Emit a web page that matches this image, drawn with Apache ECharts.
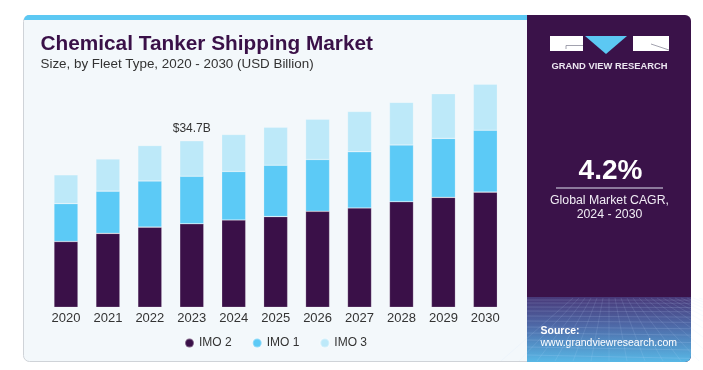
<!DOCTYPE html>
<html>
<head>
<meta charset="utf-8">
<script src="https://cdn.jsdelivr.net/npm/echarts@6/dist/echarts.min.js"></script>
<style>
html,body{margin:0;padding:0;background:#ffffff;}
#main{width:703px;height:370px;}
</style>
</head>
<body>
<div id="main"></div>
<script>
// ---- data ----
var years = ['2020','2021','2022','2023','2024','2025','2026','2027','2028','2029','2030'];
var imo2 = [13.7, 15.4, 16.7, 17.4, 18.2, 18.9, 20.0, 20.7, 22.0, 22.9, 24.0];
var imo1 = [7.9, 8.8, 9.6, 9.9, 10.1, 10.7, 10.8, 11.7, 11.8, 12.3, 12.9];
var imo3 = [6.0, 6.7, 7.4, 7.4, 7.7, 7.9, 8.4, 8.4, 8.9, 9.3, 9.6];
var seriesNames = ['IMO 2', 'IMO 1', 'IMO 3'];
var totalLabel = '$34.7B';
var totalLabelIndex = 3;
var cagrText = '4.2%';

var chart = echarts.init(document.getElementById('main'), null, {renderer:'canvas'});

var C_DARK = '#3a1048';
var C_MID = '#5ccaf6';
var C_LIGHT = '#bde9f9';
var PANEL = '#3a1249';
var FONT = '"Liberation Sans", Arial, sans-serif';

var imo3Data = imo3.map(function(v, i){
  if (i === totalLabelIndex) {
    return {value: v, label: {show: true, position: 'top', distance: 6, formatter: totalLabel,
      color: '#333333', fontSize: 12, fontFamily: FONT}};
  }
  return v;
});

// mesh lines for decorative bottom of right panel
var meshEls = [];
(function(){
  var x0 = 527, x1 = 691, y0 = 298, y1 = 361;
  var hy = [300, 303, 307, 311, 316, 321, 327, 333, 340, 347, 355];
  hy.forEach(function(y){
    meshEls.push({type:'line', z: 3, silent:true,
      shape:{x1:x0, y1:y, x2:x1, y2:y + (y-298)*0.06},
      style:{stroke:'rgba(200,220,255,0.22)', lineWidth:0.7}});
  });
  for (var k = -6; k <= 16; k++) {
    var xt = 609 + k * 6;
    var xb = 609 + k * 18;
    meshEls.push({type:'line', z: 3, silent:true,
      shape:{x1:xt, y1:y0, x2:xb, y2:y1},
      style:{stroke:'rgba(200,220,255,0.18)', lineWidth:0.7}});
  }
})();

var graphics = [
  {type:'rect', z:-10, silent:true, shape:{x:23.5, y:15.5, width:667, height:346, r:6},
   style:{fill:'#f3f8fb', stroke:'#cfd3d8', lineWidth:1}},
  {type:'rect', z:-9, silent:true, shape:{x:24, y:15, width:504, height:5, r:[5,0,0,0]},
   style:{fill:'#5cc8f3'}},
  {type:'rect', z:-8, silent:true, shape:{x:527, y:15, width:164, height:347, r:[0,6,6,0]},
   style:{fill:PANEL}},
  {type:'rect', z:-7, silent:true, shape:{x:527, y:297, width:164, height:65, r:[0,0,6,0]},
   style:{fill:new echarts.graphic.LinearGradient(0,0,0,1,[
     {offset:0, color:'#483878'},
     {offset:0.45, color:'#4e6aa8'},
     {offset:1, color:'#58b8e6'}])}},
  {type:'rect', z:10, silent:true, shape:{x:550, y:36, width:33, height:15}, style:{fill:'#ffffff'}},
  {type:'polyline', z:11, silent:true, shape:{points:[[566,49],[566,45.5],[583,45.5]]},
   style:{stroke:'#8a8a9a', lineWidth:0.8, fill:null}},
  {type:'polygon', z:10, silent:true, shape:{points:[[585,36],[627,36],[606,54]]}, style:{fill:'#5cc8f3'}},
  {type:'rect', z:10, silent:true, shape:{x:633, y:36, width:36, height:15}, style:{fill:'#ffffff'}},
  {type:'line', z:11, silent:true, shape:{x1:651, y1:44, x2:669, y2:50},
   style:{stroke:'#8a8a9a', lineWidth:0.8}},
  {type:'text', z:10, silent:true, x:609.5, y:66.5,
   style:{text:'GRAND VIEW RESEARCH', fill:'#ebe6f0', font:'bold 9.4px ' + FONT,
     textAlign:'center', textVerticalAlign:'middle'}},
  {type:'text', z:10, silent:true, x:610.5, y:171.5,
   style:{text:cagrText, fill:'#ffffff', font:'bold 28px ' + FONT,
     textAlign:'center', textVerticalAlign:'middle'}},
  {type:'line', z:10, silent:true, shape:{x1:556, y1:188, x2:663, y2:188},
   style:{stroke:'#a99cb9', lineWidth:1.5}},
  {type:'text', z:10, silent:true, x:609.5, y:200.7,
   style:{text:'Global Market CAGR,', fill:'#f0ecf4', font:'12.3px ' + FONT,
     textAlign:'center', textVerticalAlign:'middle'}},
  {type:'text', z:10, silent:true, x:609.5, y:214.2,
   style:{text:'2024 - 2030', fill:'#f0ecf4', font:'12.3px ' + FONT,
     textAlign:'center', textVerticalAlign:'middle'}},
  {type:'text', z:10, silent:true, x:540.5, y:330.7,
   style:{text:'Source:', fill:'#ffffff', font:'bold 10.5px ' + FONT,
     textAlign:'left', textVerticalAlign:'middle'}},
  {type:'text', z:10, silent:true, x:540.5, y:343.3,
   style:{text:'www.grandviewresearch.com', fill:'#ffffff', font:'10.5px ' + FONT,
     textAlign:'left', textVerticalAlign:'middle'}},
  {type:'text', z:10, silent:true, x:40.5, y:44.4,
   style:{text:'Chemical Tanker Shipping Market', fill:'#3a1048', font:'900 20.8px ' + FONT,
     textAlign:'left', textVerticalAlign:'middle'}},
  {type:'text', z:10, silent:true, x:40.5, y:64.4,
   style:{text:'Size, by Fleet Type, 2020 - 2030 (USD Billion)', fill:'#333333', font:'13.4px ' + FONT,
     textAlign:'left', textVerticalAlign:'middle'}}
].concat(meshEls);

var option = {
  animation: false,
  backgroundColor: '#ffffff',
  graphic: {elements: graphics},
  legend: {
    data: seriesNames,
    left: 179, top: 332,
    icon: 'circle', itemWidth: 9, itemHeight: 9, itemGap: 20,
    textStyle: {color: '#333333', fontSize: 12, fontFamily: FONT}
  },
  grid: {left: 45, right: 196.7, top: 67.3, bottom: 62.7, containLabel: false},
  xAxis: {
    type: 'category', data: years,
    axisLine: {show: false}, axisTick: {show: false},
    axisLabel: {color: '#333333', fontSize: 13, fontFamily: FONT, margin: 5}
  },
  yAxis: {
    type: 'value', min: 0, max: 50, show: false, splitLine: {show: false}
  },
  series: [
    {name: seriesNames[0], type: 'bar', stack: 'a', data: imo2, barWidth: 24,
     itemStyle: {color: C_DARK, borderColor: 'rgba(255,255,255,0.35)', borderWidth: 0.6}},
    {name: seriesNames[1], type: 'bar', stack: 'a', data: imo1, barWidth: 24,
     itemStyle: {color: C_MID, borderColor: 'rgba(255,255,255,0.35)', borderWidth: 0.6}},
    {name: seriesNames[2], type: 'bar', stack: 'a', data: imo3Data, barWidth: 24,
     itemStyle: {color: C_LIGHT, borderColor: 'rgba(255,255,255,0.35)', borderWidth: 0.6}}
  ]
};
chart.setOption(option);
</script>
</body>
</html>
